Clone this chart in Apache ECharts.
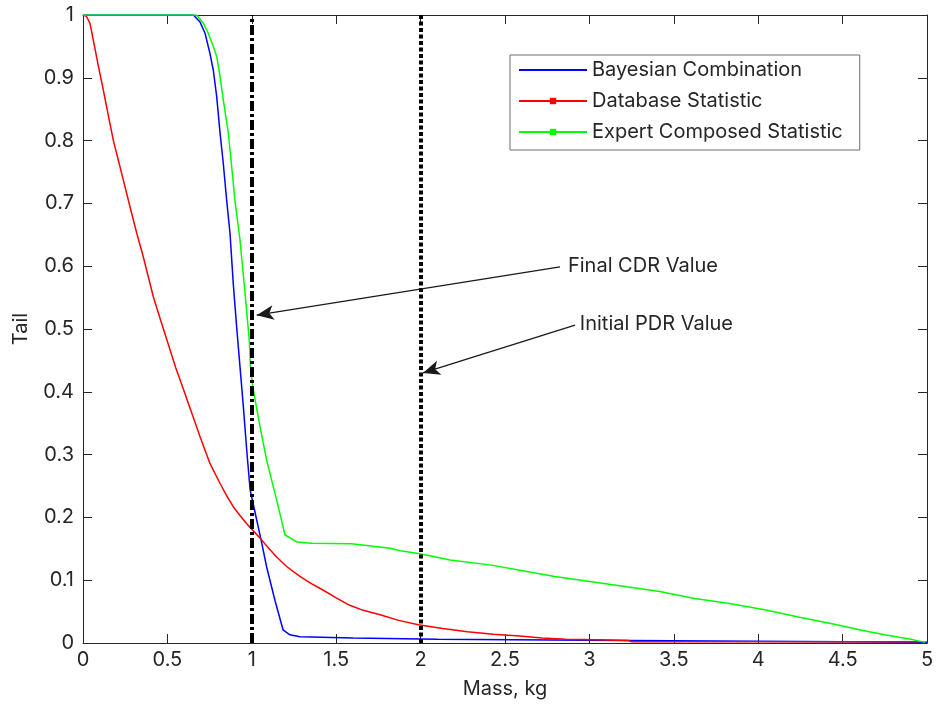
<!DOCTYPE html>
<html>
<head>
<meta charset="utf-8">
<script src="https://cdn.jsdelivr.net/npm/echarts@6/dist/echarts.min.js"></script>
<style>
  html, body { margin: 0; padding: 0; background: #fff; }
  #chart { width: 938px; height: 704px; }
</style>
</head>
<body>
<div id="chart"></div>
<script>
// Tail curves: [mass (kg), tail value]
const bayesian = [
  [0, 1], [0.654, 1], [0.693, 0.989], [0.723, 0.971], [0.752, 0.939], [0.772, 0.912],
  [0.792, 0.870], [0.812, 0.812], [0.831, 0.764], [0.851, 0.705], [0.871, 0.652],
  [0.89, 0.573], [0.91, 0.504], [0.93, 0.44], [0.95, 0.376], [0.97, 0.307], [0.99, 0.244],
  [1.02, 0.207], [1.059, 0.159], [1.088, 0.121], [1.137, 0.068], [1.185, 0.021],
  [1.226, 0.013], [1.285, 0.010], [1.6, 0.008], [2.1, 0.006], [2.11, 0.004],
  [3.23, 0.004], [3.24, 0.001], [5, 0.001]
];
const database = [
  [0, 1], [0.02, 0.998], [0.041, 0.987], [0.061, 0.96], [0.09, 0.92], [0.12, 0.881],
  [0.15, 0.84], [0.18, 0.80], [0.21, 0.768], [0.239, 0.737], [0.278, 0.695],
  [0.317, 0.654], [0.357, 0.615], [0.417, 0.551], [0.46, 0.514], [0.5, 0.48],
  [0.55, 0.438], [0.6, 0.40], [0.65, 0.362], [0.693, 0.329], [0.752, 0.286],
  [0.812, 0.254], [0.85, 0.235], [0.89, 0.217], [0.93, 0.203], [0.97, 0.19],
  [1.049, 0.167], [1.1, 0.151], [1.147, 0.137], [1.21, 0.121], [1.285, 0.106],
  [1.35, 0.095], [1.424, 0.084], [1.5, 0.072], [1.58, 0.06], [1.66, 0.052],
  [1.76, 0.045], [1.87, 0.036], [1.987, 0.029], [2.13, 0.023], [2.277, 0.018],
  [2.43, 0.014], [2.588, 0.011], [2.72, 0.008], [2.86, 0.006], [3.05, 0.005],
  [3.23, 0.004], [3.25, 0.002], [4.95, 0.002]
];
const expert = [
  [0, 1], [0.673, 1], [0.713, 0.987], [0.742, 0.971], [0.772, 0.95], [0.792, 0.934],
  [0.812, 0.902], [0.831, 0.865], [0.861, 0.812], [0.881, 0.758], [0.9, 0.705],
  [0.93, 0.642], [0.96, 0.557], [0.985, 0.482], [0.993, 0.435], [1.009, 0.403],
  [1.049, 0.344], [1.088, 0.291], [1.147, 0.228], [1.197, 0.172], [1.266, 0.161],
  [1.355, 0.159], [1.59, 0.158], [1.72, 0.154], [1.82, 0.151], [1.88, 0.147],
  [1.977, 0.143], [2.056, 0.139], [2.174, 0.132], [2.42, 0.124], [2.588, 0.116],
  [2.795, 0.106], [3.002, 0.098], [3.21, 0.090], [3.417, 0.082], [3.624, 0.071],
  [3.831, 0.063], [4.038, 0.053], [4.245, 0.041], [4.452, 0.030], [4.62, 0.020],
  [4.75, 0.013], [4.92, 0.005], [4.99, 0.001]
];

// Reference masses (vertical markers)
const finalCdrMass = 1;
const initialPdrMass = 2;

// Annotation arrows: text, tail start, arrow head (data coordinates)
const annotations = [
  { text: 'Final CDR Value', from: [2.826, 0.599], to: [1.029, 0.522], gap: 8 },
  { text: 'Initial PDR Value', from: [2.915, 0.506], to: [2.014, 0.43], gap: 5 }
];

const seriesNames = ['Bayesian Combination', 'Database Statistic', 'Expert Composed Statistic'];

const FONT = 'Inter, Liberation Sans, Arial, sans-serif';
const FS = 20;
const INK = '#262626';

const chart = echarts.init(document.getElementById('chart'), null, { renderer: 'canvas' });

const axisCommon = {
  axisLine: { show: true, onZero: false, lineStyle: { color: INK, width: 1 } },
  axisTick: { show: true, inside: true, length: 9, lineStyle: { color: INK, width: 1 } },
  splitLine: { show: false }
};

const option = {
  animation: false,
  backgroundColor: '#fff',
  grid: { left: 83, right: 11, top: 15, bottom: 61, containLabel: false },
  xAxis: [
    Object.assign({
      type: 'value', min: 0, max: 5, interval: 0.5, position: 'bottom',
      name: 'Mass, kg', nameLocation: 'middle', nameGap: 36,
      nameTextStyle: { fontSize: FS, color: INK, fontFamily: FONT },
      axisLabel: { margin: 7, fontSize: FS, color: INK, fontFamily: FONT }
    }, axisCommon),
    Object.assign({
      type: 'value', min: 0, max: 5, interval: 0.5, position: 'top',
      axisLabel: { show: false }
    }, axisCommon)
  ],
  yAxis: [
    Object.assign({
      type: 'value', min: 0, max: 1, interval: 0.1, position: 'left',
      name: 'Tail', nameLocation: 'middle', nameGap: 52, nameRotate: 90,
      nameTextStyle: { fontSize: FS, color: INK, fontFamily: FONT },
      axisLabel: { margin: 9, fontSize: FS, color: INK, fontFamily: FONT }
    }, axisCommon),
    Object.assign({
      type: 'value', min: 0, max: 1, interval: 0.1, position: 'right',
      axisLabel: { show: false }
    }, axisCommon)
  ],
  legend: {
    data: [
      { name: seriesNames[0], itemStyle: { opacity: 0 } },
      seriesNames[1],
      seriesNames[2]
    ],
    orient: 'vertical',
    left: 510,
    top: 55,
    itemWidth: 68,
    itemHeight: 8,
    itemGap: 9,
    padding: [4, 17, 7, 8],
    borderColor: '#6e6e6e',
    borderWidth: 1,
    backgroundColor: '#fff',
    selectedMode: false,
    textStyle: { fontSize: FS, color: INK, fontFamily: FONT, lineHeight: 22 }
  },
  series: [
    {
      name: seriesNames[0], type: 'line', data: bayesian, symbol: 'rect',
      showSymbol: false, lineStyle: { color: '#0000ff', width: 1.5 },
      itemStyle: { color: '#0000ff' }, z: 2
    },
    {
      name: seriesNames[1], type: 'line', data: database, symbol: 'rect',
      showSymbol: false, lineStyle: { color: '#ff0000', width: 1.5 },
      itemStyle: { color: '#ff0000' }, z: 3
    },
    {
      name: seriesNames[2], type: 'line', data: expert, symbol: 'rect',
      showSymbol: false, lineStyle: { color: '#00ff00', width: 1.5 },
      itemStyle: { color: '#00ff00' }, z: 4
    },
    {
      name: 'markers', type: 'line', data: [], z: 6, silent: true,
      markLine: {
        silent: true,
        symbol: ['none', 'none'],
        label: { show: false },
        emphasis: { disabled: true },
        data: [
          { xAxis: finalCdrMass, lineStyle: { color: '#000', width: 4, type: [10, 3, 3, 3], cap: 'butt' } },
          { xAxis: initialPdrMass, lineStyle: { color: '#000', width: 4, type: [4, 2.5], cap: 'butt' } }
        ]
      }
    },
    {
      name: 'notes', type: 'line', data: [], z: 7, silent: true,
      markLine: {
        silent: true,
        symbol: ['none', 'arrow'],
        symbolSize: [11, 17],
        emphasis: { disabled: true },
        lineStyle: { color: '#1a1a1a', width: 1.3, type: 'solid' },
        data: annotations.map(a => [
          {
            coord: a.from,
            label: {
              show: true, position: 'start', distance: a.gap, formatter: a.text,
              fontSize: FS, color: INK, fontFamily: FONT
            }
          },
          { coord: a.to }
        ])
      }
    }
  ]
};

chart.setOption(option);
</script>
</body>
</html>
